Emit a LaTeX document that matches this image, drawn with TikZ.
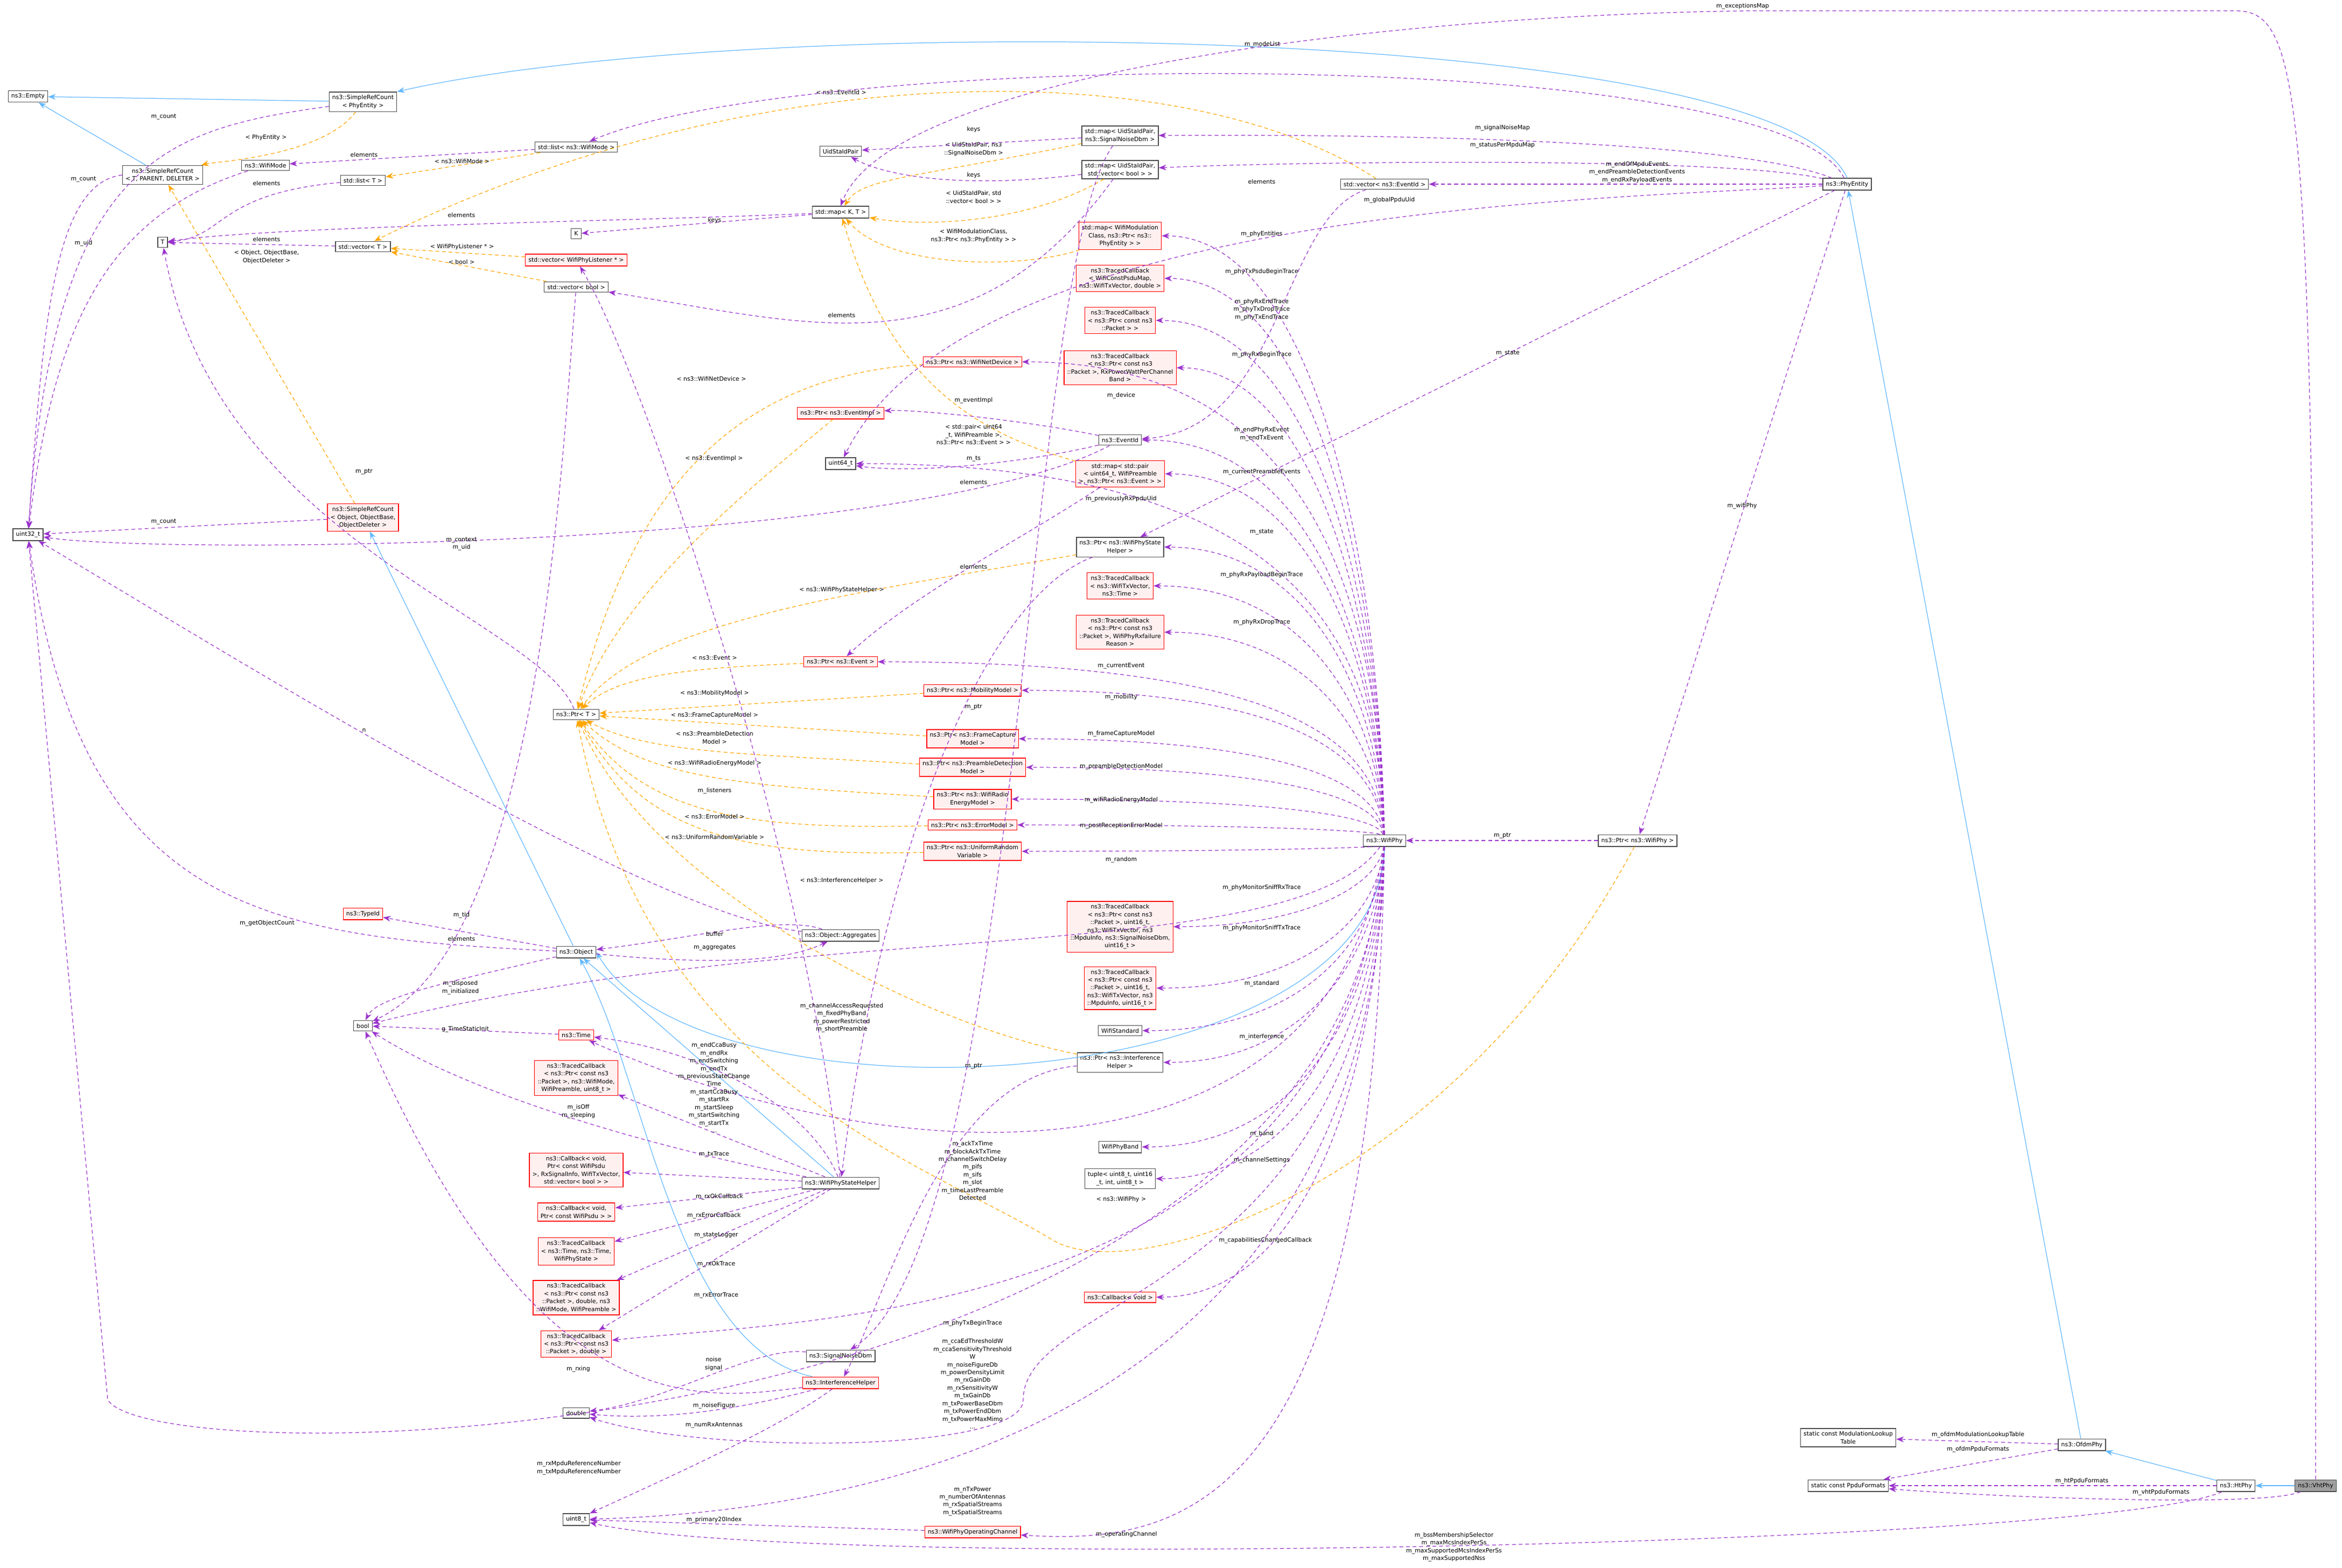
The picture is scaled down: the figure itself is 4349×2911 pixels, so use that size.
\documentclass[tikz,border=0pt]{standalone}
\usepackage{fontspec}
\setmainfont{DejaVu Sans}
\usetikzlibrary{arrows.meta,calc}
\definecolor{mp}{HTML}{9A32CD}
\definecolor{og}{HTML}{FFA500}
\definecolor{bl}{HTML}{63B8FF}
\definecolor{rf}{HTML}{FFF0F0}
\begin{document}
\begin{tikzpicture}[x=0.01cm,y=-0.01cm,
  every node/.style={font=\fontsize{3.1}{4.1}\selectfont},
  gn/.style={draw=gray!60!black,line width=0.35pt,fill=white,inner sep=1.6pt,align=center},
  rn/.style={draw=red,line width=0.35pt,fill=rf,inner sep=1.6pt,align=center},
  lb/.style={align=center,inner sep=0.3pt},
  mem/.style={draw=mp,dashed,dash pattern=on 2pt off 1.5pt,line width=0.35pt,-{Stealth[length=4pt,width=3pt]}},
  tpl/.style={draw=og,dashed,dash pattern=on 2pt off 1.5pt,line width=0.35pt,-{Stealth[length=4pt,width=3pt]}},
  inh/.style={draw=bl,line width=0.35pt,-{Stealth[length=4pt,width=3pt]}}]
\useasboundingbox (0,0) rectangle (4349,2911);
% nodes
\node[gn] (empty) at (52,179) {ns3::Empty};
\node[gn] (srcphy) at (674,189) {ns3::SimpleRefCount\\< PhyEntity >};
\node[gn] (srctpd) at (302,325) {ns3::SimpleRefCount\\< T, PARENT, DELETER >};
\node[gn] (wmode) at (493,307) {ns3::WifiMode};
\node[gn] (listwm) at (1070,273) {std::list< ns3::WifiMode >};
\node[gn] (listT) at (674,335) {std::list< T >};
\node[gn] (T) at (302,450) {T};
\node[gn] (vecT) at (674,458) {std::vector< T >};
\node[gn] (K) at (1070,434) {K};
\node[rn] (veclis) at (1070,483) {std::vector< WifiPhyListener * >};
\node[gn] (vecbool) at (1070,533) {std::vector< bool >};
\node[rn] (srcobj) at (674,961) {ns3::SimpleRefCount\\< Object, ObjectBase,\\ObjectDeleter >};
\node[gn] (u32) at (52,993) {uint32\_t};
\node[gn] (mapsn) at (2080,252) {std::map< UidStaIdPair,\\ns3::SignalNoiseDbm >};
\node[gn] (uid) at (1561,281) {UidStaIdPair};
\node[gn] (mapsv) at (2080,315) {std::map< UidStaIdPair,\\std::vector< bool > >};
\node[gn] (vecev) at (2571,342) {std::vector< ns3::EventId >};
\node[gn] (mapKT) at (1561,394) {std::map< K, T >};
\node[rn] (mapmod) at (2080,438) {std::map< WifiModulation\\Class, ns3::Ptr< ns3::\\PhyEntity > >};
\node[rn] (tcpsdu) at (2080,517) {ns3::TracedCallback\\< WifiConstPsduMap,\\ns3::WifiTxVector, double >};
\node[rn] (tcpkt) at (2080,595) {ns3::TracedCallback\\< ns3::Ptr< const ns3\\::Packet > >};
\node[rn] (tcrxp) at (2080,683) {ns3::TracedCallback\\< ns3::Ptr< const ns3\\::Packet >, RxPowerWattPerChannel\\Band >};
\node[rn] (pnetdev) at (1806,672) {ns3::Ptr< ns3::WifiNetDevice >};
\node[rn] (pevimpl) at (1561,767) {ns3::Ptr< ns3::EventImpl >};
\node[gn] (evid) at (2080,817) {ns3::EventId};
\node[gn] (u64) at (1561,861) {uint64\_t};
\node[rn] (mappair) at (2080,880) {std::map< std::pair\\< uint64\_t, WifiPreamble\\>, ns3::Ptr< ns3::Event > >};
\node[gn] (pstate) at (2080,1016) {ns3::Ptr< ns3::WifiPhyState\\Helper >};
\node[rn] (tctxv) at (2080,1088) {ns3::TracedCallback\\< ns3::WifiTxVector,\\ns3::Time >};
\node[rn] (tcfail) at (2080,1174) {ns3::TracedCallback\\< ns3::Ptr< const ns3\\::Packet >, WifiPhyRxfailure\\Reason >};
\node[rn] (pevent) at (1561,1229) {ns3::Ptr< ns3::Event >};
\node[gn] (ptrT) at (1070,1327) {ns3::Ptr< T >};
\node[rn] (pmob) at (1806,1282) {ns3::Ptr< ns3::MobilityModel >};
\node[rn] (pfc) at (1806,1372) {ns3::Ptr< ns3::FrameCapture\\Model >};
\node[rn] (ppd) at (1806,1425) {ns3::Ptr< ns3::PreambleDetection\\Model >};
\node[rn] (prad) at (1806,1484) {ns3::Ptr< ns3::WifiRadio\\EnergyModel >};
\node[rn] (perr) at (1806,1532) {ns3::Ptr< ns3::ErrorModel >};
\node[rn] (prand) at (1806,1581) {ns3::Ptr< ns3::UniformRandom\\Variable >};
\node[gn] (wifiphy) at (2571,1561) {ns3::WifiPhy};
\node[gn] (pwifiphy) at (3041,1561) {ns3::Ptr< ns3::WifiPhy >};
\node[rn] (tcsrx) at (2080,1721) {ns3::TracedCallback\\< ns3::Ptr< const ns3\\::Packet >, uint16\_t,\\ns3::WifiTxVector, ns3\\::MpduInfo, ns3::SignalNoiseDbm,\\uint16\_t >};
\node[rn] (tcstx) at (2080,1835) {ns3::TracedCallback\\< ns3::Ptr< const ns3\\::Packet >, uint16\_t,\\ns3::WifiTxVector, ns3\\::MpduInfo, uint16\_t >};
\node[gn] (wstd) at (2080,1914) {WifiStandard};
\node[gn] (pintf) at (2080,1973) {ns3::Ptr< ns3::Interference\\Helper >};
\node[gn] (wband) at (2080,2130) {WifiPhyBand};
\node[gn] (tuple) at (2080,2189) {tuple< uint8\_t, uint16\\\_t, int, uint8\_t >};
\node[rn] (cbvoid) at (2080,2409) {ns3::Callback< void >};
\node[rn] (typeid) at (674,1697) {ns3::TypeId};
\node[gn] (object) at (1070,1768) {ns3::Object};
\node[gn] (aggr) at (1561,1737) {ns3::Object::Aggregates};
\node[gn] (bool) at (674,1905) {bool};
\node[rn] (time) at (1070,1922) {ns3::Time};
\node[rn] (tcwm) at (1070,2002) {ns3::TracedCallback\\< ns3::Ptr< const ns3\\::Packet >, ns3::WifiMode,\\WifiPreamble, uint8\_t >};
\node[rn] (cbbig) at (1070,2173) {ns3::Callback< void,\\Ptr< const WifiPsdu\\>, RxSignalInfo, WifiTxVector,\\std::vector< bool > >};
\node[rn] (cbsmall) at (1070,2251) {ns3::Callback< void,\\Ptr< const WifiPsdu > >};
\node[rn] (tcstate) at (1070,2324) {ns3::TracedCallback\\< ns3::Time, ns3::Time,\\WifiPhyState >};
\node[rn] (tcrxok) at (1070,2410) {ns3::TracedCallback\\< ns3::Ptr< const ns3\\::Packet >, double, ns3\\::WifiMode, WifiPreamble >};
\node[rn] (tcpd) at (1070,2496) {ns3::TracedCallback\\< ns3::Ptr< const ns3\\::Packet >, double >};
\node[gn] (wpsh) at (1561,2197) {ns3::WifiPhyStateHelper};
\node[gn] (snd) at (1561,2518) {ns3::SignalNoiseDbm};
\node[rn] (intf) at (1561,2568) {ns3::InterferenceHelper};
\node[gn] (double) at (1070,2624) {double};
\node[gn] (u8) at (1070,2822) {uint8\_t};
\node[rn] (opch) at (1806,2845) {ns3::WifiPhyOperatingChannel};
\node[gn] (phyent) at (3430,342) {ns3::PhyEntity};
\node[gn] (modlut) at (3432,2670) {static const ModulationLookup\\Table};
\node[gn] (ppdu) at (3432,2759) {static const PpduFormats};
\node[gn] (ofdm) at (3866,2683) {ns3::OfdmPhy};
\node[gn] (ht) at (4152,2759) {ns3::HtPhy};
\node[gn,fill=gray!75] (vht) at (4300,2759) {ns3::VhtPhy};
% inheritance
\draw[inh] (srcphy) -- (empty);
\draw[inh] (srctpd) -- (empty);
\draw[inh] (phyent.north) .. controls (3300,40) and (1400,20) .. (srcphy.north east);
\draw[inh] (object) -- (srcobj);
\draw[inh] (wifiphy.south) .. controls (2560,2050) and (1300,2100) .. (object.east);
\draw[inh] (wpsh) -- (object);
\draw[inh] (intf) .. controls (1250,2500) and (1200,2000) .. (object);
\draw[inh] (ofdm) -- (phyent);
\draw[inh] (ht) -- (ofdm);
\draw[inh] (vht) -- (ht);
% templates
\draw[tpl] (srcphy) .. controls (600,290) and (400,300) .. (srctpd);
\draw[tpl] (srcobj) -- (srctpd);
\draw[tpl] (listwm) -- (listT);
\draw[tpl] (veclis) -- (vecT);
\draw[tpl] (vecbool) -- (vecT);
\draw[tpl] (vecev) .. controls (2200,100) and (1400,100) .. (vecT);
\draw[tpl] (mapsn) .. controls (1700,330) and (1600,330) .. (mapKT);
\draw[tpl] (mapsv) .. controls (1900,420) and (1700,420) .. (mapKT);
\draw[tpl] (mapmod) .. controls (1900,500) and (1650,500) .. (mapKT);
\draw[tpl] (mappair) .. controls (1800,800) and (1650,700) .. (mapKT);
\draw[tpl] (pnetdev) .. controls (1300,700) and (1150,1000) .. (ptrT);
\draw[tpl] (pevimpl) .. controls (1400,900) and (1150,1100) .. (ptrT);
\draw[tpl] (pstate) .. controls (1600,1100) and (1200,1150) .. (ptrT);
\draw[tpl] (pevent) .. controls (1300,1240) and (1150,1250) .. (ptrT);
\draw[tpl] (pmob) -- (ptrT);
\draw[tpl] (pfc) -- (ptrT);
\draw[tpl] (ppd) .. controls (1400,1400) and (1200,1400) .. (ptrT);
\draw[tpl] (prad) .. controls (1400,1460) and (1200,1450) .. (ptrT);
\draw[tpl] (perr) .. controls (1400,1540) and (1200,1520) .. (ptrT);
\draw[tpl] (prand) .. controls (1400,1590) and (1200,1560) .. (ptrT);
\draw[tpl] (pintf) .. controls (1700,1900) and (1200,1640) .. (ptrT);
\draw[tpl] (pwifiphy) .. controls (2700,2200) and (2100,2400) .. (1950,2300) .. controls (1700,2150) and (1200,2000) .. (ptrT);
% template labels
\node[lb] at (494,255) {< PhyEntity >};
\node[lb] at (495,477) {< Object, ObjectBase,\\ObjectDeleter >};
\node[lb] at (858,299) {< ns3::WifiMode >};
\node[lb] at (858,458) {< WifiPhyListener * >};
\node[lb] at (857,486) {< bool >};
\node[lb] at (1562,171) {< ns3::EventId >};
\node[lb] at (1808,277) {< UidStaIdPair, ns3\\::SignalNoiseDbm >};
\node[lb] at (1808,366) {< UidStaIdPair, std\\::vector< bool > >};
\node[lb] at (1808,438) {< WifiModulationClass,\\ns3::Ptr< ns3::PhyEntity > >};
\node[lb] at (1808,807) {< std::pair< uint64\\\_t, WifiPreamble >,\\ns3::Ptr< ns3::Event > >};
\node[lb] at (1321,703) {< ns3::WifiNetDevice >};
\node[lb] at (1326,851) {< ns3::EventImpl >};
\node[lb] at (1563,1095) {< ns3::WifiPhyStateHelper >};
\node[lb] at (1327,1222) {< ns3::Event >};
\node[lb] at (1327,1287) {< ns3::MobilityModel >};
\node[lb] at (1327,1328) {< ns3::FrameCaptureModel >};
\node[lb] at (1327,1370) {< ns3::PreambleDetection\\Model >};
\node[lb] at (1327,1417) {< ns3::WifiRadioEnergyModel >};
\node[lb] at (1327,1516) {< ns3::ErrorModel >};
\node[lb] at (1327,1554) {< ns3::UniformRandomVariable >};
\node[lb] at (1563,1635) {< ns3::InterferenceHelper >};
\node[lb] at (2082,2227) {< ns3::WifiPhy >};
% members
\draw[mem] (srcphy) .. controls (300,240) and (100,300) .. (u32);
\draw[mem] (srctpd.west) .. controls (100,340) and (80,600) .. (u32);
\draw[mem] (srcobj) -- (u32);
\draw[mem] (wmode) .. controls (200,400) and (100,600) .. (u32);
\draw[mem] (listwm) -- (wmode);
\draw[mem] (listT) .. controls (400,360) and (420,440) .. (T);
\draw[mem] (vecT) -- (T);
\draw[mem] (mapKT) .. controls (1200,410) and (500,420) .. (T);
\draw[mem] (mapKT) -- (K);
\draw[mem] (mapsn) -- (uid);
\draw[mem] (mapsv) .. controls (1800,350) and (1650,330) .. (uid);
\draw[mem] (mapsn) .. controls (1900,500) and (1900,2300) .. (snd);
\draw[mem] (mapsv) .. controls (1800,700) and (1500,600) .. (vecbool);
\draw[mem] (vecbool) .. controls (1040,900) and (1000,1750) .. (bool);
\draw[mem] (vecev) .. controls (2380,400) and (2380,800) .. (evid);
\draw[mem] (mappair) .. controls (1900,1000) and (1700,1100) .. (pevent);
\draw[mem] (wpsh) .. controls (1500,1600) and (1200,700) .. (veclis);
\draw[mem] (evid) .. controls (1900,780) and (1700,760) .. (pevimpl);
\draw[mem] (evid) .. controls (1900,860) and (1700,880) .. (u64);
\draw[mem] (evid) .. controls (1700,1020) and (300,1030) .. (u32);
\draw[mem] (ptrT) .. controls (1000,1150) and (400,1000) .. (T);
\draw[mem] (object) -- (typeid);
\draw[mem] (object) .. controls (850,1820) and (700,1850) .. (bool);
\draw[mem] (object) .. controls (500,1740) and (150,1700) .. (u32);
\draw[mem] (object) .. controls (1300,1790) and (1450,1790) .. (aggr);
\draw[mem] (aggr) .. controls (1450,1700) and (1300,1740) .. (object);
\draw[mem] (aggr) .. controls (1200,1700) and (400,1200) .. (u32);
\draw[mem] (time) -- (bool);
\draw[mem] (snd) .. controls (1400,2500) and (1250,2600) .. (double);
\draw[mem] (intf) .. controls (1400,2610) and (1250,2640) .. (double);
\draw[mem] (intf) .. controls (1450,2650) and (1250,2740) .. (u8);
\draw[mem] (intf) .. controls (1300,2600) and (1000,2650) .. (bool);
\draw[mem] (opch) -- (u8);
\draw[mem] (pstate) .. controls (1850,1100) and (1650,1500) .. (wpsh);
\draw[mem] (pintf) .. controls (1750,2000) and (1650,2400) .. (intf);
\draw[mem] (pwifiphy) -- (wifiphy);
\draw[mem] (wpsh) .. controls (1500,2050) and (1300,1950) .. (time);
\draw[mem] (wpsh) -- (tcwm);
\draw[mem] (wpsh) -- (cbbig);
\draw[mem] (wpsh) -- (cbsmall);
\draw[mem] (wpsh) -- (tcstate);
\draw[mem] (wpsh) -- (tcrxok);
\draw[mem] (wpsh) -- (tcpd);
\draw[mem] (wpsh) .. controls (1300,2150) and (900,2050) .. (bool);
\draw[mem] (phyent) .. controls (3200,250) and (2400,250) .. (mapsn);
\draw[mem] (phyent) .. controls (3200,290) and (2400,300) .. (mapsv);
\draw[mem] (phyent) -- (vecev);
\draw[mem] (phyent) .. controls (3000,370) and (1800,380) .. (u64);
\draw[mem] (phyent) .. controls (3300,80) and (1500,90) .. (listwm);
\draw[mem] (phyent) -- (pstate);
\draw[mem] (phyent) -- (pwifiphy);
\foreach \t/\y in {mapmod/438, tcpsdu/517, tcpkt/595, tcrxp/683, pnetdev/672, evid/817, mappair/880, u64/861, pstate/1016, tctxv/1088, tcfail/1174, pevent/1229, pmob/1282, pfc/1372, ppd/1425, prad/1484, perr/1532, prand/1581, tcsrx/1721, tcstx/1835, wstd/1914, pintf/1973, wband/2130, tuple/2189, cbvoid/2409}
  \draw[mem] (wifiphy) .. controls (2560,{(\y+1561)/2}) and (2430,\y) .. (\t.east);
\draw[mem] (wifiphy) .. controls (2500,2450) and (1500,2450) .. (tcpd);
\draw[mem] (wifiphy) .. controls (2480,2200) and (1700,2200) .. (time);
\draw[mem] (wifiphy) .. controls (2400,1800) and (1500,1700) .. (bool);
\draw[mem] (wifiphy) .. controls (2550,2400) and (1900,2400) .. (1900,2600) .. controls (1900,2700) and (1300,2700) .. (double);
\draw[mem] (wifiphy) .. controls (2550,2700) and (1500,2810) .. (u8);
\draw[mem] (wifiphy) .. controls (2550,2800) and (2200,2870) .. (opch);
\draw[mem] (wifiphy) .. controls (2500,2700) and (300,2750) .. (200,2600) -- (u32);
\draw[mem] (ofdm) -- (modlut);
\draw[mem] (ofdm) -- (ppdu);
\draw[mem] (ht) -- (ppdu);
\draw[mem] (vht) .. controls (4200,2800) and (3700,2780) .. (ppdu);
\draw[mem] (ht) .. controls (3900,2870) and (1500,2920) .. (u8);
\draw[mem] (vht.north) .. controls (4300,200) and (4290,20) .. (4150,20) -- (3250,20) .. controls (2500,30) and (1650,150) .. (mapKT.north);
% member labels
\node[lb] at (304,217) {m\_count};
\node[lb] at (155,333) {m\_count};
\node[lb] at (155,452) {m\_uid};
\node[lb] at (304,969) {m\_count};
\node[lb] at (676,287) {elements};
\node[lb] at (495,340) {elements};
\node[lb] at (857,399) {elements};
\node[lb] at (1327,409) {keys};
\node[lb] at (495,444) {elements};
\node[lb] at (676,876) {m\_ptr};
\node[lb] at (1808,240) {keys};
\node[lb] at (1808,325) {keys};
\node[lb] at (1563,585) {elements};
\node[lb] at (2343,337) {elements};
\node[lb] at (1808,744) {m\_eventImpl};
\node[lb] at (1808,852) {m\_ts};
\node[lb] at (1808,895) {elements};
\node[lb] at (857,1010) {m\_context\\m\_uid};
\node[lb] at (1808,1052) {elements};
\node[lb] at (1808,1313) {m\_ptr};
\node[lb] at (1327,1469) {m\_listeners};
\node[lb] at (676,1356) {n};
\node[lb] at (496,1715) {m\_getObjectCount};
\node[lb] at (857,1700) {m\_tid};
\node[lb] at (857,1743) {elements};
\node[lb] at (855,1834) {m\_disposed\\m\_initialized};
\node[lb] at (1327,1734) {buffer};
\node[lb] at (1327,1760) {m\_aggregates};
\node[lb] at (864,1912) {g\_TimeStaticInit};
\node[lb] at (1563,1890) {m\_channelAccessRequested\\m\_fixedPhyBand\\m\_powerRestricted\\m\_shortPreamble};
\node[lb] at (1326,2020) {m\_endCcaBusy\\m\_endRx\\m\_endSwitching\\m\_endTx\\m\_previousStateChange\\Time\\m\_startCcaBusy\\m\_startRx\\m\_startSleep\\m\_startSwitching\\m\_startTx\\...};
\node[lb] at (1074,2064) {m\_isOff\\m\_sleeping};
\node[lb] at (1326,2144) {m\_txTrace};
\node[lb] at (1336,2223) {m\_rxOkCallback};
\node[lb] at (1326,2258) {m\_rxErrorCallback};
\node[lb] at (1330,2294) {m\_stateLogger};
\node[lb] at (1330,2348) {m\_rxOkTrace};
\node[lb] at (1330,2406) {m\_rxErrorTrace};
\node[lb] at (1325,2533) {noise\\signal};
\node[lb] at (1074,2543) {m\_rxing};
\node[lb] at (1326,2611) {m\_noiseFigure};
\node[lb] at (1326,2647) {m\_numRxAntennas};
\node[lb] at (1326,2823) {m\_primary20Index};
\node[lb] at (1808,1980) {m\_ptr};
\node[lb] at (1806,2174) {m\_ackTxTime\\m\_blockAckTxTime\\m\_channelSwitchDelay\\m\_pifs\\m\_sifs\\m\_slot\\m\_timeLastPreamble\\Detected};
\node[lb] at (1806,2458) {m\_phyTxBeginTrace};
\node[lb] at (1806,2570) {m\_ccaEdThresholdW\\m\_ccaSensitivityThreshold\\W\\m\_noiseFigureDb\\m\_powerDensityLimit\\m\_rxGainDb\\m\_rxSensitivityW\\m\_txGainDb\\m\_txPowerBaseDbm\\m\_txPowerEndDbm\\m\_txPowerMaxMimo\\...};
\node[lb] at (1806,2788) {m\_nTxPower\\m\_numberOfAntennas\\m\_rxSpatialStreams\\m\_txSpatialStreams};
\node[lb] at (2092,2850) {m\_operatingChannel};
\node[lb] at (1075,2726) {m\_rxMpduReferenceNumber\\m\_txMpduReferenceNumber};
\node[lb] at (2343,435) {m\_phyEntities};
\node[lb] at (2343,505) {m\_phyTxPsduBeginTrace};
\node[lb] at (2343,575) {m\_phyRxEndTrace\\m\_phyTxDropTrace\\m\_phyTxEndTrace};
\node[lb] at (2343,659) {m\_phyRxBeginTrace};
\node[lb] at (2082,735) {m\_device};
\node[lb] at (2343,806) {m\_endPhyRxEvent\\m\_endTxEvent};
\node[lb] at (2343,877) {m\_currentPreambleEvents};
\node[lb] at (2082,927) {m\_previouslyRxPpduUid};
\node[lb] at (2343,988) {m\_state};
\node[lb] at (2343,1068) {m\_phyRxPayloadBeginTrace};
\node[lb] at (2343,1156) {m\_phyRxDropTrace};
\node[lb] at (2082,1237) {m\_currentEvent};
\node[lb] at (2082,1295) {m\_mobility};
\node[lb] at (2082,1363) {m\_frameCaptureModel};
\node[lb] at (2082,1424) {m\_preambleDetectionModel};
\node[lb] at (2082,1486) {m\_wifiRadioEnergyModel};
\node[lb] at (2082,1534) {m\_postReceptionErrorModel};
\node[lb] at (2082,1597) {m\_random};
\node[lb] at (2343,1649) {m\_phyMonitorSniffRxTrace};
\node[lb] at (2343,1724) {m\_phyMonitorSniffTxTrace};
\node[lb] at (2343,1827) {m\_standard};
\node[lb] at (2343,1926) {m\_interference};
\node[lb] at (2343,2106) {m\_band};
\node[lb] at (2343,2155) {m\_channelSettings};
\node[lb] at (2350,2304) {m\_capabilitiesChangedCallback};
\node[lb] at (2580,372) {m\_globalPpduUid};
\node[lb] at (2344,83) {m\_modeList};
\node[lb] at (3236,12) {m\_exceptionsMap};
\node[lb] at (2790,238) {m\_signalNoiseMap};
\node[lb] at (2790,270) {m\_statusPerMpduMap};
\node[lb] at (3040,320) {m\_endOfMpduEvents\\m\_endPreambleDetectionEvents\\m\_endRxPayloadEvents};
\node[lb] at (2800,656) {m\_state};
\node[lb] at (3235,940) {m\_wifiPhy};
\node[lb] at (2790,1552) {m\_ptr};
\node[lb] at (3673,2665) {m\_ofdmModulationLookupTable};
\node[lb] at (3673,2692) {m\_ofdmPpduFormats};
\node[lb] at (3866,2751) {m\_htPpduFormats};
\node[lb] at (4013,2772) {m\_vhtPpduFormats};
\node[lb] at (2700,2873) {m\_bssMembershipSelector\\m\_maxMcsIndexPerSs\\m\_maxSupportedMcsIndexPerSs\\m\_maxSupportedNss};
\end{tikzpicture}
\end{document}
